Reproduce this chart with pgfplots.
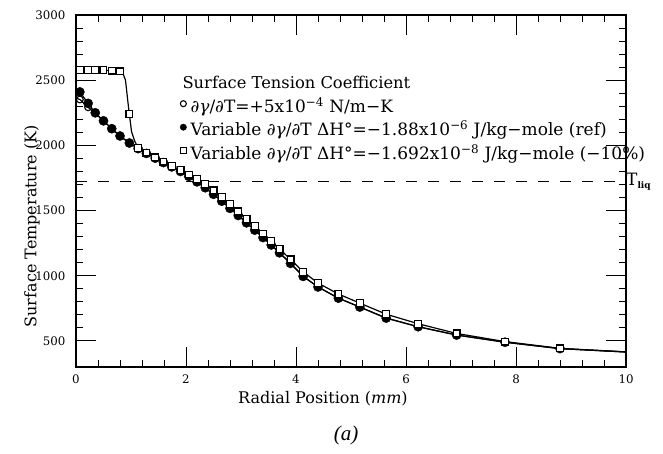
\documentclass[border=0pt]{standalone}
\usepackage{pgfplots}
\pgfplotsset{compat=1.18}
\usepackage{fontspec}
\setmainfont{DejaVu Serif}
\newfontfamily\timesfont{Liberation Serif}
\newcommand{\legfont}{\fontsize{17}{19}\selectfont}
\begin{document}
\begin{tikzpicture}
\begin{axis}[
  name=ax,
  scale only axis, width=550pt, height=352pt,
  xmin=0, xmax=10, ymin=300, ymax=3000,
  xtick={0,2,4,6,8,10}, ytick={500,1000,1500,2000,2500,3000},
  minor x tick num=4, minor y tick num=4,
  tick align=inside, tick pos=both,
  major tick length=20pt, minor tick length=7pt,
  axis line style={line width=1.2pt},
  tick style={black, line width=0.9pt},
  /pgf/number format/assume math mode=true,
  /pgf/number format/1000 sep={},
  tick label style={font=\fontsize{11.8}{13}\selectfont},
  yticklabel style={xshift=-7pt},
  xticklabel style={yshift=-4pt},
  xlabel={Radial Position (\textit{mm})},
  xlabel style={font=\fontsize{16}{18}\selectfont, at={(axis description cs:0.449,0)}, anchor=center, yshift=-32pt},
  ylabel={Surface Temperature (K)},
  ylabel style={font=\fontsize{16}{18}\selectfont, at={(axis description cs:-0.08,0.40)}, anchor=center},
  clip=false,
  legend cell align=left,
  legend style={at={(0.189,0.826)}, anchor=north west, draw=none, fill=none,
    font=\legfont, inner sep=0pt, row sep=7pt, column sep=4pt,
    nodes={inner sep=0pt, text height=12.5pt, text depth=4pt}},
  legend image code/.code={\draw[#1] plot coordinates {(3pt,4.5pt)};},
]
\addlegendimage{empty legend}
\addlegendentry{\hspace*{-8pt}\fontsize{16.3}{18}\selectfont Surface Tension Coefficient}

% dashed liquidus line
\addplot[forget plot, black, line width=1pt, dash pattern=on 11pt off 11pt] coordinates {(0,1723) (10,1723)};

% open circles: constant d gamma/dT
\addplot[forget plot, black, line width=1.2pt] table {
x y
0.00 2362
0.07 2352
0.22 2292
0.35 2245
0.50 2188
0.65 2128
0.80 2072
0.97 2018
1.13 1975
1.28 1938
1.44 1902
1.59 1868
1.74 1835
1.90 1800
2.05 1762
2.20 1720
2.35 1675
2.50 1625
2.65 1572
2.80 1517
2.95 1462
3.10 1406
3.25 1350
3.40 1293
3.55 1236
3.70 1176
3.90 1095
4.13 995
4.40 914
4.77 828
5.16 760
5.64 675
6.22 609
6.92 545
7.80 490
8.80 441
10.0 415
};
\addplot[only marks, mark=o, mark size=3.4pt, mark options={fill=white, line width=1.1pt}, black, legend image post style={mark size=3pt}] table {
x y
0.07 2352
0.22 2292
0.35 2245
0.50 2188
0.65 2128
0.80 2072
0.97 2018
1.13 1975
1.28 1938
1.44 1902
1.59 1868
1.74 1835
1.90 1800
2.05 1762
2.20 1720
2.35 1675
2.50 1625
2.65 1572
2.80 1517
2.95 1462
3.10 1406
3.25 1350
3.40 1293
3.55 1236
3.70 1176
3.90 1095
4.13 995
4.40 914
4.77 828
5.16 760
5.64 675
6.22 609
6.92 545
7.80 490
8.80 441
};
\addlegendentry{\textit{∂γ}/\textit{∂}T=+5x10\textsuperscript{−4} N/m−K}

% filled circles: variable, reference
\addplot[forget plot, black, line width=1.2pt] table {
x y
0.00 2425
0.07 2410
0.22 2322
0.35 2250
0.50 2188
0.65 2128
0.80 2072
0.97 2018
1.13 1975
1.28 1938
1.44 1902
1.59 1868
1.74 1835
1.90 1800
2.05 1762
2.20 1720
2.35 1675
2.50 1625
2.65 1572
2.80 1517
2.95 1462
3.10 1406
3.25 1350
3.40 1293
3.55 1236
3.70 1176
3.90 1095
4.13 995
4.40 914
4.77 828
5.16 760
5.64 675
6.22 609
6.92 545
7.80 490
8.80 441
10.0 415
};
\addplot[only marks, mark=*, mark size=4.6pt, black, legend image post style={mark size=3.2pt}] table {
x y
0.07 2410
0.22 2322
0.35 2250
0.50 2188
0.65 2128
0.80 2072
0.97 2018
1.13 1975
1.28 1938
1.44 1902
1.59 1868
1.74 1835
1.90 1800
2.05 1762
2.20 1720
2.35 1675
2.50 1625
2.65 1572
2.80 1517
2.95 1462
3.10 1406
3.25 1350
3.40 1293
3.55 1236
3.70 1176
3.90 1095
4.13 995
4.40 914
4.77 828
5.16 760
5.64 675
6.22 609
6.92 545
7.80 490
8.80 441
};
\addlegendentry{Variable \textit{∂γ}/\textit{∂}T ΔH°=−1.88x10\textsuperscript{−6} J/kg−mole (ref)}

% open squares: variable, -10%
\addplot[forget plot, black, line width=1.2pt] table {
x y
0.00 2578
0.07 2576
0.22 2576
0.35 2576
0.50 2576
0.65 2574
0.80 2568
0.85 2555
0.90 2500
0.94 2347
0.97 2240
1.01 2105
1.07 2030
1.13 1982
1.28 1944
1.44 1908
1.59 1875
1.74 1843
1.90 1810
2.05 1776
2.20 1740
2.35 1702
2.50 1655
2.65 1604
2.80 1550
2.95 1494
3.10 1437
3.25 1380
3.40 1323
3.55 1266
3.70 1206
3.90 1125
4.13 1030
4.40 944
4.77 860
5.16 790
5.64 705
6.22 632
6.92 557
7.80 495
8.80 443
10.0 416
};
\addplot[only marks, mark=square*, mark size=3.4pt, mark options={fill=white, line width=1.2pt}, black, legend image post style={mark size=2.8pt}] table {
x y
0.07 2576
0.22 2576
0.35 2576
0.50 2576
0.65 2574
0.80 2568
0.97 2240
1.13 1982
1.28 1944
1.44 1908
1.59 1875
1.74 1843
1.90 1810
2.05 1776
2.20 1740
2.35 1702
2.50 1655
2.65 1604
2.80 1550
2.95 1494
3.10 1437
3.25 1380
3.40 1323
3.55 1266
3.70 1206
3.90 1125
4.13 1030
4.40 944
4.77 860
5.16 790
5.64 705
6.22 632
6.92 557
7.80 495
8.80 443
};
\addlegendentry{Variable \textit{∂γ}/\textit{∂}T ΔH°=−1.692x10\textsuperscript{−8} J/kg−mole (−10\%)}

\node[anchor=west, inner sep=0pt, font=\fontsize{17}{19}\selectfont] at (axis cs:10,1723) {T\textsubscript{\fontsize{9}{10}\selectfont\bfseries liq}};
\end{axis}
\node[font=\timesfont\fontsize{21}{24}\selectfont\itshape] at ([shift={(270pt,-68pt)}]ax.south west) {(a)};
\path ([shift={(-76pt,-87pt)}]ax.south west) rectangle ([shift={(37pt,15pt)}]ax.north east);
\end{tikzpicture}
\end{document}
